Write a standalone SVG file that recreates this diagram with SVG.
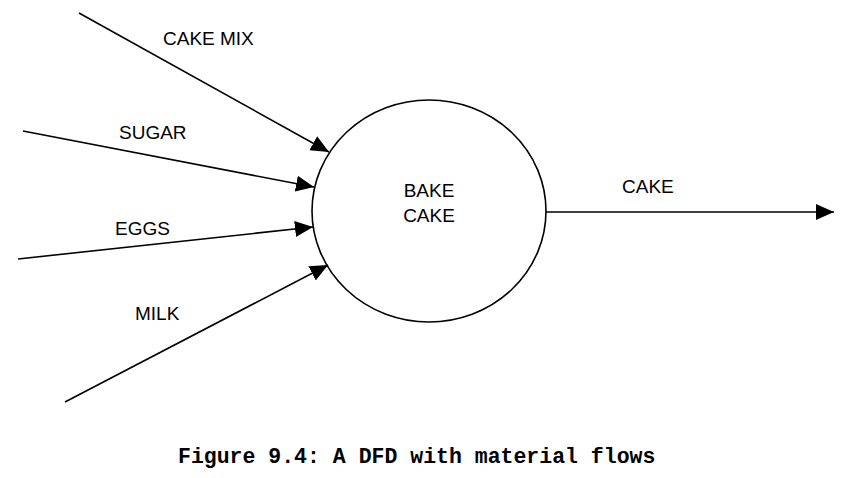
<svg xmlns="http://www.w3.org/2000/svg" width="866" height="478" viewBox="0 0 866 478">
<style>
.lbl{font-family:"Liberation Sans",Arial,sans-serif;font-size:19px;fill:#000}
.cap{font-family:"Liberation Mono","Courier New",monospace;font-size:21.5px;font-weight:bold;fill:#000}
.flow{stroke:#000;stroke-width:1.6;fill:none;marker-end:url(#ah)}
</style>
<defs>
<marker id="ah" markerUnits="userSpaceOnUse" markerWidth="20" markerHeight="18" refX="18" refY="8" orient="auto">
<path d="M0,0 L18,8 L0,16 Z" fill="#000"/>
</marker>
</defs>
<rect width="866" height="478" fill="#fff"/>
<g id="connectors">
<line class="flow" x1="79" y1="13" x2="329" y2="152"/>
<line class="flow" x1="23" y1="131" x2="314" y2="187"/>
<line class="flow" x1="18" y1="259" x2="313" y2="227"/>
<line class="flow" x1="65" y1="402" x2="328" y2="265"/>
<line class="flow" x1="546" y1="212" x2="834" y2="212"/>
<text class="lbl" x="163" y="45">CAKE MIX</text>
<text class="lbl" x="119" y="139">SUGAR</text>
<text class="lbl" x="115" y="235">EGGS</text>
<text class="lbl" x="135" y="320">MILK</text>
<text class="lbl" x="622" y="193">CAKE</text>
</g>
<g id="bake-cake">
<ellipse cx="429" cy="211" rx="117" ry="111" fill="none" stroke="#000" stroke-width="1.6"/>
<text class="lbl" x="429" y="197" text-anchor="middle">BAKE</text>
<text class="lbl" x="429" y="222" text-anchor="middle">CAKE</text>
</g>
<text class="cap" x="178" y="463">Figure 9.4: A DFD with material flows</text>
</svg>
